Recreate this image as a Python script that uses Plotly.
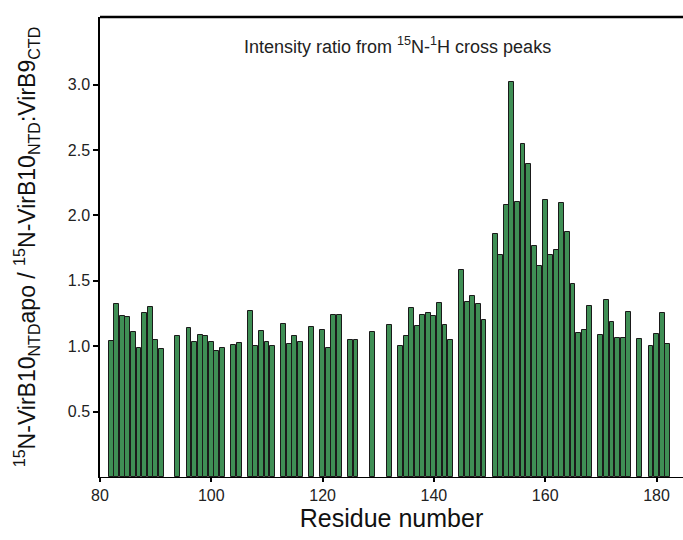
import plotly.graph_objects as go

residues = [82, 83, 84, 85, 86, 87, 88, 89, 90, 91,
            94, 96, 97, 98, 99, 100, 101, 102, 104, 105,
            107, 108, 109, 110, 111, 113, 114, 115, 116, 118,
            120, 121, 122, 123, 125, 126, 129, 132, 134, 135,
            136, 137, 138, 139, 140, 141, 142, 143, 145, 146,
            147, 148, 149, 151, 152, 153, 154, 155, 156, 157,
            158, 159, 160, 161, 162, 163, 164, 165, 166, 167,
            168, 170, 171, 172, 173, 174, 175, 177, 179, 180,
            181, 182]
ratios = [1.04, 1.325, 1.228, 1.223, 1.106, 0.989, 1.254, 1.30, 1.045, 0.978,
          1.075, 1.142, 1.035, 1.086, 1.075, 1.03, 0.963, 0.989, 1.009, 1.024,
          1.269, 1.004, 1.116, 1.035, 1.004, 1.167, 1.014, 1.08, 1.03, 1.147,
          1.121, 0.984, 1.239, 1.239, 1.045, 1.045, 1.106, 1.162, 1.004, 1.08,
          1.294, 1.152, 1.239, 1.254, 1.233, 1.33, 1.162, 1.045, 1.585, 1.34,
          1.381, 1.325, 1.203, 1.86, 1.697, 2.08, 3.017, 2.105, 2.546, 2.395,
          1.769, 1.616, 2.12, 1.697, 1.738, 2.095, 1.871, 1.473, 1.101, 1.121,
          1.305, 1.086, 1.356, 1.183, 1.06, 1.065, 1.259, 1.055, 1.004, 1.091,
          1.254, 1.014]

x_ticks = [80, 100, 120, 140, 160, 180]
y_ticks = [0.5, 1.0, 1.5, 2.0, 2.5, 3.0]

FONT = "Liberation Sans, Arial, sans-serif"

fig = go.Figure()
fig.add_trace(go.Bar(
    x=residues, y=ratios, width=0.88,
    marker=dict(color="#3f8f55", line=dict(color="#1a1a1a", width=1)),
    showlegend=False,
))

fig.update_layout(
    width=683, height=540,
    margin=dict(l=100, r=0, t=17, b=63),
    plot_bgcolor="white", paper_bgcolor="white",
    font=dict(family=FONT, color="#222"),
    bargap=0,
    xaxis=dict(
        range=[80, 184.76], tickvals=x_ticks, ticktext=[str(v) for v in x_ticks],
        showline=True, linecolor="black", linewidth=1,
        ticks="outside", ticklen=4, tickcolor="black", tickwidth=1.5,
        tickfont=dict(size=16, color="#222"),
        showgrid=False, zeroline=False,
        title=dict(text="Residue number", font=dict(size=25, color="#111"), standoff=2),
    ),
    yaxis=dict(
        range=[0, 3.517], tickvals=y_ticks, ticktext=["%.1f" % v for v in y_ticks],
        showline=True, linecolor="black", linewidth=1.5,
        ticks="outside", ticklen=5, tickcolor="black", tickwidth=1.5,
        tickfont=dict(size=16, color="#222"),
        showgrid=False, zeroline=False,
        title=dict(
            text="<sup>15</sup>N-VirB10<sub>NTD</sub>apo / <sup>15</sup>N-VirB10<sub>NTD</sub>:VirB9<sub>CTD</sub>",
            font=dict(size=23, color="#111"), standoff=26),
    ),
    shapes=[dict(type="line", xref="paper", yref="paper", x0=0, x1=1, y0=1, y1=1,
                 line=dict(color="black", width=2.5))],
    annotations=[dict(
        text="Intensity ratio from <sup>15</sup>N-<sup>1</sup>H cross peaks",
        xref="paper", yref="paper", x=0.511, y=0.939, xanchor="center", yanchor="middle",
        showarrow=False, font=dict(size=18, color="#222"))],
)

fig.write_html(
    "out.html",
    config={"displayModeBar": False},
    post_script="document.body.style.margin='0';document.body.style.overflow='hidden';",
)
